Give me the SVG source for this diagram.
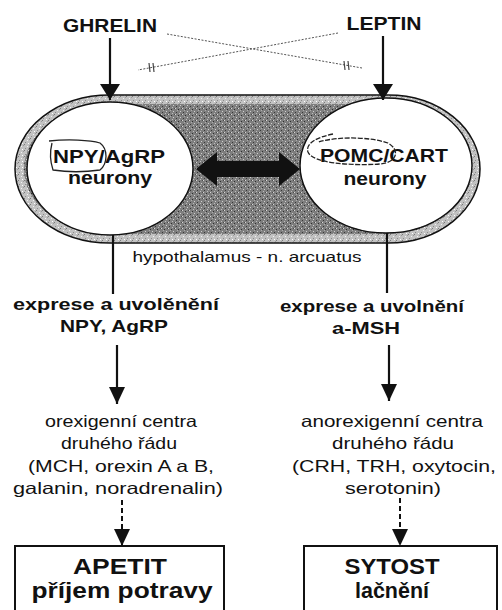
<svg xmlns="http://www.w3.org/2000/svg" width="502" height="610" viewBox="0 0 502 610">
<style>
text{font-family:"Liberation Sans",Arial,sans-serif;fill:#111}
.b{font-weight:bold}
.t{font-size:18px}
.r{font-size:16.5px}
.ln{stroke:#111;stroke-width:2.2;fill:none}
.dash{stroke:#111;stroke-width:2;fill:none;stroke-dasharray:5 3}
.dot{stroke:#555;stroke-width:1;fill:none;stroke-dasharray:2 1.5}
.mk{stroke:#444;stroke-width:1.2;fill:none}
.loop{stroke:#222;stroke-width:1.3;fill:none}
</style>
<defs>
<pattern id="light" width="6" height="6" patternUnits="userSpaceOnUse">
<rect width="6" height="6" fill="#c2c2c2"/>
<rect x="0" y="0" width="1" height="1" fill="#7a7a7a"/>
<rect x="3" y="2" width="1" height="1" fill="#f2f2f2"/>
<rect x="1" y="4" width="1" height="1" fill="#8a8a8a"/>
<rect x="4" y="5" width="1" height="1" fill="#ffffff"/>
<rect x="5" y="1" width="1" height="1" fill="#9a9a9a"/>
</pattern>
<pattern id="dark" width="7" height="6" patternUnits="userSpaceOnUse">
<rect width="7" height="6" fill="#7e7e7e"/>
<rect x="0" y="0" width="1" height="1" fill="#d8d8d8"/>
<rect x="3" y="1" width="1" height="1" fill="#2e2e2e"/>
<rect x="5" y="3" width="1" height="1" fill="#cfcfcf"/>
<rect x="1" y="4" width="1" height="1" fill="#383838"/>
<rect x="4" y="5" width="1" height="1" fill="#bdbdbd"/>
<rect x="6" y="0" width="1" height="1" fill="#4a4a4a"/>
<rect x="2" y="2" width="1" height="1" fill="#adadad"/>
</pattern>
<marker id="ah" viewBox="0 0 16 20" refX="16" refY="10" markerWidth="16" markerHeight="20" markerUnits="userSpaceOnUse" orient="auto">
<path d="M0,0 L16,10 L0,20 Z" fill="#111"/>
</marker>
<marker id="ah2" viewBox="0 0 17 16" refX="17" refY="8" markerWidth="17" markerHeight="16" markerUnits="userSpaceOnUse" orient="auto">
<path d="M0,0 L17,8 L0,16 Z" fill="#111"/>
</marker>
</defs>

<g id="hypothalamus">
<path d="M110,95 L388,95 A92,74 0 0 1 388,243 L110,243 A95,74 0 0 1 110,95 Z" fill="url(#light)" stroke="#111" stroke-width="1.5"/>
<path d="M110,104 L388,104 A83,65 0 0 1 388,234 L110,234 A86,65 0 0 1 110,104 Z" fill="url(#dark)"/>
<text x="247" y="262" text-anchor="middle" font-size="14.5" textLength="229" lengthAdjust="spacingAndGlyphs">hypothalamus - n. arcuatus</text>
</g>

<g id="npy-node">
<ellipse cx="110" cy="168.5" rx="83" ry="66.5" fill="#fff" stroke="#111" stroke-width="1.5"/>
<text class="b t" x="53" y="163" textLength="112" lengthAdjust="spacingAndGlyphs">NPY/AgRP</text>
<text class="b t" x="110" y="184" text-anchor="middle" textLength="84" lengthAdjust="spacingAndGlyphs">neurony</text>
<path class="loop" d="M49,141 C68,139 90,140 100,143 C108,149 108,163 100,170 C86,172 66,172 53,170 C50,161 50,151 52,143"/>
</g>

<g id="pomc-node">
<ellipse cx="386" cy="165.5" rx="86" ry="67.5" fill="#fff" stroke="#111" stroke-width="1.5"/>
<text class="b t" x="320" y="162" textLength="128" lengthAdjust="spacingAndGlyphs">POMC/CART</text>
<text class="b t" x="385" y="185" text-anchor="middle" textLength="83" lengthAdjust="spacingAndGlyphs">neurony</text>
<path class="loop" stroke-dasharray="5 1.5" d="M333,134 C318,137 305,143 308,152 C312,163 350,166 380,164 C398,162 400,150 388,143 C370,137 340,136 318,142"/>
</g>

<g id="ghrelin">
<text class="b" x="110" y="32" text-anchor="middle" font-size="17.5" textLength="94" lengthAdjust="spacingAndGlyphs">GHRELIN</text>
</g>
<g id="leptin">
<text class="b" x="384" y="30" text-anchor="middle" font-size="17.5" textLength="75" lengthAdjust="spacingAndGlyphs">LEPTIN</text>
</g>

<g id="expr-left">
<text class="b" x="116" y="310" text-anchor="middle" font-size="17" textLength="206" lengthAdjust="spacingAndGlyphs">exprese a uvolěnění</text>
<text class="b" x="114" y="332" text-anchor="middle" font-size="17" textLength="108" lengthAdjust="spacingAndGlyphs">NPY, AgRP</text>
</g>
<g id="expr-right">
<text class="b" x="372" y="312" text-anchor="middle" font-size="17" textLength="184" lengthAdjust="spacingAndGlyphs">exprese a uvolnění</text>
<text class="b" x="366" y="334" text-anchor="middle" font-size="17" textLength="68" lengthAdjust="spacingAndGlyphs">a-MSH</text>
</g>

<g id="orexigenni">
<text class="r" x="121" y="427" text-anchor="middle" textLength="152" lengthAdjust="spacingAndGlyphs">orexigenní centra</text>
<text class="r" x="119" y="449" text-anchor="middle" textLength="116" lengthAdjust="spacingAndGlyphs">druhého řádu</text>
<text class="r" x="121" y="472" text-anchor="middle" textLength="186" lengthAdjust="spacingAndGlyphs">(MCH, orexin A a B,</text>
<text class="r" x="118" y="494" text-anchor="middle" textLength="210" lengthAdjust="spacingAndGlyphs">galanin, noradrenalin)</text>
</g>
<g id="anorexigenni">
<text class="r" x="392" y="427" text-anchor="middle" textLength="182" lengthAdjust="spacingAndGlyphs">anorexigenní centra</text>
<text class="r" x="393" y="449" text-anchor="middle" textLength="122" lengthAdjust="spacingAndGlyphs">druhého řádu</text>
<text class="r" x="394" y="472" text-anchor="middle" textLength="204" lengthAdjust="spacingAndGlyphs">(CRH, TRH, oxytocin,</text>
<text class="r" x="393" y="494" text-anchor="middle" textLength="96" lengthAdjust="spacingAndGlyphs">serotonin)</text>
</g>

<g id="apetit">
<rect x="15" y="546" width="209" height="70" fill="#fff" stroke="#111" stroke-width="2"/>
<text class="b" x="120" y="574" text-anchor="middle" font-size="22" textLength="94" lengthAdjust="spacingAndGlyphs">APETIT</text>
<text class="b" x="122" y="598" text-anchor="middle" font-size="22" textLength="181" lengthAdjust="spacingAndGlyphs">příjem potravy</text>
</g>
<g id="sytost">
<rect x="304" y="546" width="193" height="70" fill="#fff" stroke="#111" stroke-width="2"/>
<text class="b" x="392" y="574" text-anchor="middle" font-size="22" textLength="95" lengthAdjust="spacingAndGlyphs">SYTOST</text>
<text class="b" x="392" y="598" text-anchor="middle" font-size="22" textLength="74" lengthAdjust="spacingAndGlyphs">lačnění</text>
</g>

<g id="connectors">
<line class="ln" x1="110" y1="38" x2="110" y2="100" marker-end="url(#ah)"/>
<line class="ln" x1="383" y1="36" x2="383" y2="100" marker-end="url(#ah)"/>
<line class="dot" x1="167" y1="34" x2="362" y2="68"/>
<line class="dot" x1="338" y1="33" x2="138" y2="70"/>
<path class="mk" d="M344,61 L345,70 M348,61 L349,70"/>
<path class="mk" d="M149,63 L150,72 M153,63 L154,72"/>
<path d="M196,169 L217,152 L217,161 L279,161 L279,152 L300,169 L279,186 L279,177 L217,177 L217,186 Z" fill="#111"/>
<line class="ln" x1="113" y1="235" x2="113" y2="294"/>
<line class="ln" x1="387" y1="233" x2="387" y2="293"/>
<line class="ln" x1="117" y1="345" x2="117" y2="404" marker-end="url(#ah2)"/>
<line class="ln" x1="389" y1="345" x2="389" y2="401" marker-end="url(#ah2)"/>
<line class="dash" x1="122" y1="500" x2="122" y2="546" marker-end="url(#ah2)"/>
<line class="dash" x1="400" y1="498" x2="400" y2="546" marker-end="url(#ah2)"/>
</g>
</svg>
